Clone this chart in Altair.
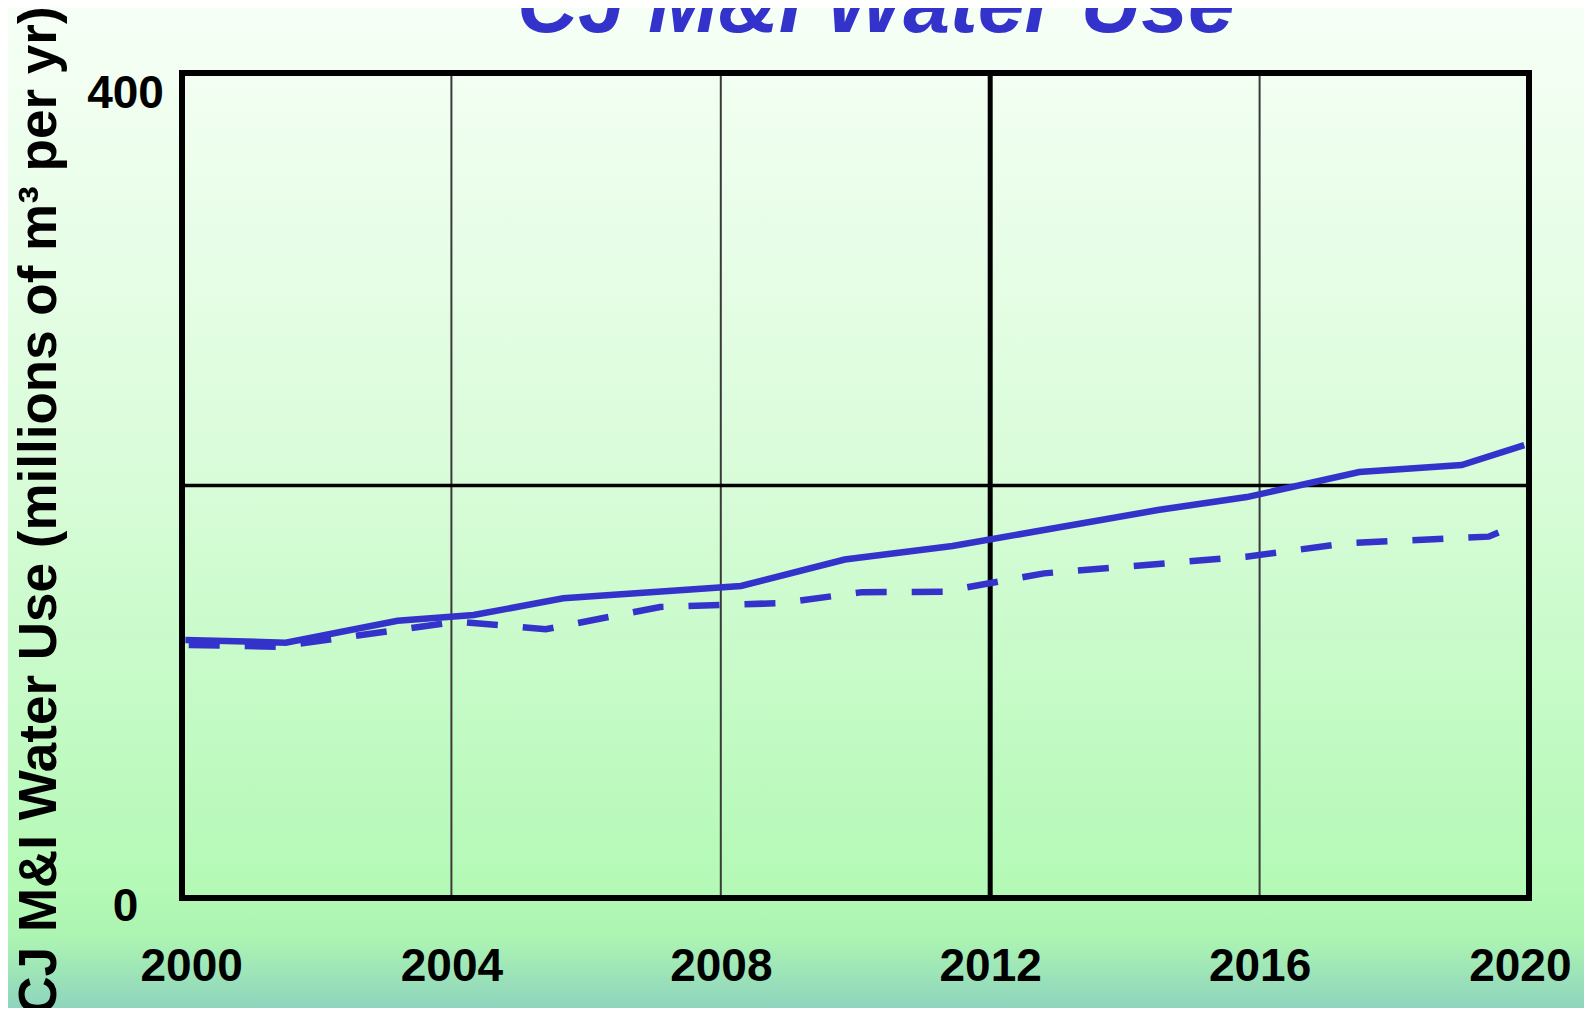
import altair as alt
import pandas as pd

chart_title = "CJ M&I Water Use"
y_title = "CJ M&I Water Use (millions of m³ per yr)"

solid_years = [2000.05, 2001.54, 2003.2, 2004.33, 2005.66, 2008.3, 2009.84, 2011.44,
               2014.49, 2015.81, 2017.48, 2019.0, 2019.93]
solid_values = [125.1, 123.8, 134.4, 137.2, 145.3, 151.3, 164.1, 170.7,
                188.1, 194.4, 206.5, 209.9, 219.6]

dashed_years = [2000.1, 2001.4, 2004.1, 2005.4, 2007.1, 2008.9, 2010.1, 2011.3,
                2012.8, 2015.8, 2017.3, 2019.4, 2019.6]
dashed_values = [122.7, 121.8, 134.0, 130.3, 141.1, 143.0, 148.3, 148.5,
                 157.4, 165.5, 172.0, 175.2, 177.9]

x_ticks = [2000, 2004, 2008, 2012, 2016, 2020]
y_ticks = [0, 200, 400]
grid_years = [2004, 2008, 2012, 2016]
grid_values = [200]

W, H = 1347, 825
PAD = {"left": 174, "top": 65, "right": 55, "bottom": 110}
FONT = "Liberation Sans"
BLUE = "#3333CC"

solid_df = pd.DataFrame({"year": solid_years, "value": solid_values})
dashed_df = pd.DataFrame({"year": dashed_years, "value": dashed_values})
one = pd.DataFrame({"k": [0]})

xscale = alt.Scale(domain=[2000, 2020], nice=False, zero=False)
yscale = alt.Scale(domain=[0, 400], nice=False)

xaxis = alt.Axis(
    values=x_ticks, format="d", grid=False, domain=False, ticks=False,
    labelFlush=True, labelFlushOffset=42, labelFont=FONT, labelFontWeight="bold",
    labelFontSize=46, labelColor="black", labelPadding=46, labelBaseline="top",
    title=None, zindex=2)
yaxis = alt.Axis(
    values=y_ticks, labelExpr="datum.value == 200 ? '' : datum.label",
    grid=False, domain=False, ticks=False,
    labelFont=FONT, labelFontWeight="bold", labelFontSize=46, labelColor="black",
    labelAlign="center", labelBaseline="middle", labelPadding=57,
    labelOffset={"condition": {"test": "datum.value == 0", "value": 8}, "value": 20},
    title=y_title, titleX=-127, titleY=437, titleAngle=270, titleAlign="center",
    titleBaseline="alphabetic", titleFont=FONT, titleFontSize=53,
    titleFontWeight="bold", titleColor="black", zindex=2)

bg = alt.Chart(one).mark_rect(
    fill=alt.LinearGradient(
        gradient="linear",
        stops=[
            alt.GradientStop(color="#F6FFF6", offset=0),
            alt.GradientStop(color="#DAFCDA", offset=0.45),
            alt.GradientStop(color="#B4F9B6", offset=0.88),
            alt.GradientStop(color="#ACF4B2", offset=0.93),
            alt.GradientStop(color="#8ED4BE", offset=1),
        ],
        x1=0, x2=0, y1=0, y2=1,
    ),
    strokeWidth=0,
).encode(
    x=alt.value(-PAD["left"]), x2=alt.value(W + PAD["right"]),
    y=alt.value(-PAD["top"]), y2=alt.value(H + PAD["bottom"]),
)

vgrid = alt.Chart(pd.DataFrame({"year": grid_years})).mark_rule().encode(
    x=alt.X("year:Q", scale=xscale, axis=xaxis),
    strokeWidth=alt.condition(alt.datum.year == 2012, alt.value(5), alt.value(2)),
    color=alt.condition(alt.datum.year == 2012, alt.value("black"), alt.value("#3a3a3a")),
)

hgrid = alt.Chart(pd.DataFrame({"value": grid_values})).mark_rule(
    color="black", strokeWidth=3.5
).encode(y=alt.Y("value:Q", scale=yscale, axis=yaxis))

solid = alt.Chart(solid_df).mark_line(color=BLUE, strokeWidth=6.5).encode(
    x=alt.X("year:Q", scale=xscale, axis=xaxis),
    y=alt.Y("value:Q", scale=yscale, axis=yaxis),
)

dashed = alt.Chart(dashed_df).mark_line(
    color=BLUE, strokeWidth=6.5, strokeDash=[31, 25], strokeCap="butt"
).encode(
    x=alt.X("year:Q", scale=xscale, axis=xaxis),
    y=alt.Y("value:Q", scale=yscale, axis=yaxis),
)

frame = alt.Chart(one).mark_rect(filled=False, stroke="black", strokeWidth=6).encode(
    x=alt.value(0), x2=alt.value(W), y=alt.value(0), y2=alt.value(H)
)

title = alt.Chart(pd.DataFrame({"t": [chart_title]})).mark_text(
    font=FONT, fontSize=84, fontWeight="bold", fontStyle="italic", color=BLUE,
    align="center", baseline="alphabetic"
).encode(text="t:N", x=alt.value(694), y=alt.value(-41))

chart = alt.layer(bg, vgrid, hgrid, solid, dashed, frame, title).properties(
    width=W, height=H, padding=PAD,
    autosize=alt.AutoSizeParams(type="none"),
    background="#F6FFF6",
).configure_view(stroke="transparent")

chart.save("out.html", embed_options={"renderer": "svg", "actions": False})
